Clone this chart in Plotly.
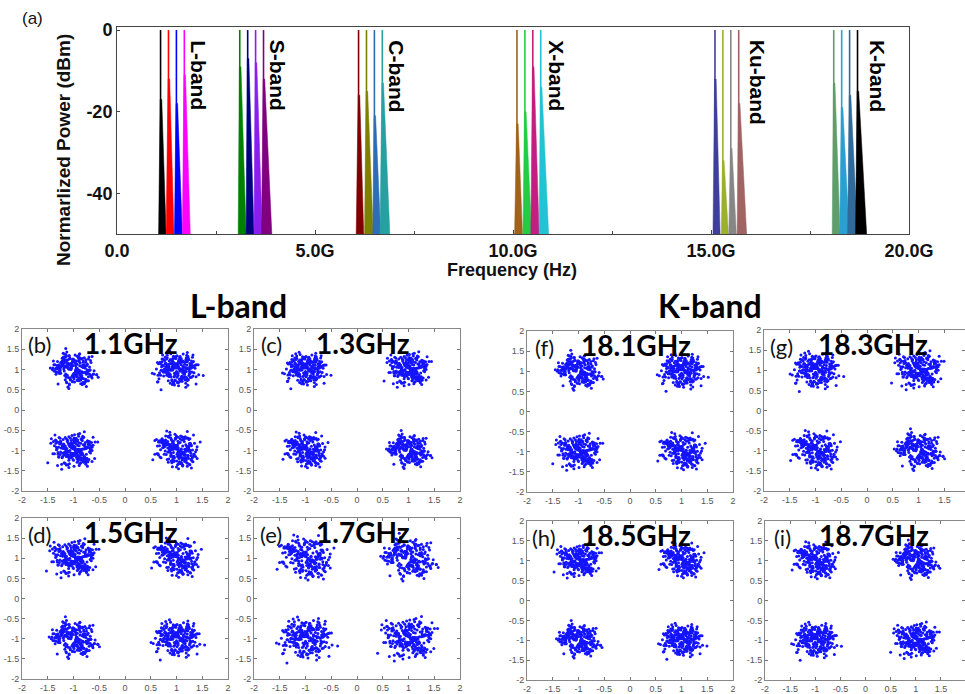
import plotly.graph_objects as go

W, H = 965, 694

# ---------------- (a) spectrum data ----------------
carrier_freq_ghz = [1.1, 1.3, 1.5, 1.7,
                    3.1, 3.3, 3.5, 3.7,
                    6.1, 6.3, 6.5, 6.7,
                    10.1, 10.3, 10.5, 10.7,
                    15.1, 15.3, 15.5, 15.7,
                    18.1, 18.3, 18.5, 18.7]
carrier_knee_db = [-17, -12, -18, -11,
                   -9, -7, -8, -12,
                   -16, -15, -21, -13,
                   -23, -20, -9, -14,
                   -12, -32, -29, -18,
                   -13, -19, -16, -15]
carrier_left_w = [0.05, 0.06, 0.05, 0.05,
                  0.04, 0.04, 0.04, 0.05,
                  0.06, 0.05, 0.04, 0.06,
                  0.06, 0.05, 0.05, 0.04,
                  0.05, 0.04, 0.05, 0.04,
                  0.04, 0.05, 0.05, 0.05]
carrier_right_w = [0.14, 0.14, 0.15, 0.15,
                   0.16, 0.16, 0.17, 0.21,
                   0.13, 0.17, 0.16, 0.19,
                   0.14, 0.17, 0.16, 0.2,
                   0.13, 0.14, 0.14, 0.2,
                   0.16, 0.19, 0.2, 0.23]
carrier_colors = ["#000000", "#ff0000", "#0000ff", "#ff00ff",
                  "#008000", "#000080", "#8a1ef0", "#800080",
                  "#800000", "#808000", "#2f6db5", "#26a0a0",
                  "#a0621c", "#22cc44", "#c21f80", "#22c3d3",
                  "#3f3f9c", "#9bb02c", "#868686", "#a06464",
                  "#5f9e6a", "#2aa0d2", "#2f6a9a", "#000000"]
band_names = ["L-band", "S-band", "C-band", "X-band", "Ku-band", "K-band"]
band_label_freq = [2.07, 4.04, 7.07, 11.1, 16.16, 19.2]

x_tick_vals = [0, 5, 10, 15, 20]
x_tick_text = ["0.0", "5.0G", "10.0G", "15.0G", "20.0G"]
y_tick_vals = [0, -20, -40]
y_tick_text = ["0", "-20", "-40"]

# ---------------- constellation data ----------------
panel_tags = ["(b)", "(c)", "(d)", "(e)", "(f)", "(g)", "(h)", "(i)"]
panel_freq_text = ["1.1GHz", "1.3GHz", "1.5GHz", "1.7GHz",
                   "18.1GHz", "18.3GHz", "18.5GHz", "18.7GHz"]
panel_spread = [1.0, 0.95, 1.05, 1.2, 1.0, 1.05, 0.95, 1.0]
cluster_cx = [-1, 1, -1, 1]
cluster_cy = [1, 1, -1, -1]

# symbol cloud offsets (hundredths of a unit) estimated from the scatter
off_a_x = [-12, 5, 23, -31, 8, -3, 17, -22, 30, -7, 14, -18, 2, 27, -26, 11, -9, 35, -14, 4,
           -38, 19, -5, 9, -24, 29, -1, 13, -16, 21, -33, 6, 16, -11, 40, -20, 1, -28, 24, -6,
           10, -15, 33, -2, 18, -35, 7, -19, 26, -10, 3, -27, 12, 45, -8, 20, -13, 31, -4, -41,
           15, -21, 0, 22, -30, 8, -17, 28, -9, 36, -23, 5, -45, 17, -1, 25, -12, 11, -29, 3,
           19, -7, 38, -16, 9, -25, 14, -3, 32, -19, 6, -36, 21, -11, 2, 27, -20, 13, -6, 48,
           -14, 24, -32, 10, -2, 16, -26, 34, -8, 4, -18, 29, -15, 7, -39, 12, -5, 23, -22, 1]
off_a_y = [8, -14, 3, 20, -25, 11, -6, 17, -2, 28, -19, 5, -31, 13, -9, 24, 1, -16, 33, -7,
           12, -22, 7, -4, 18, -28, 26, -12, 9, -35, 4, 21, -18, 15, -3, 30, -10, 6, -24, 14,
           -1, 37, -15, 19, -8, 2, -27, 23, 10, -20, 16, -5, 29, -13, -38, 7, 22, -11, 3, 0,
           -17, 13, 25, -30, 6, -9, 18, -2, 34, -21, 11, -6, 4, 27, -14, -42, 15, -4, 9, 20,
           -23, 2, -12, 31, -7, 16, -26, 8, -1, 22, -17, 12, -33, 5, 19, -10, 40, -3, 14, -19,
           6, -29, 10, -8, 24, -15, 1, 17, -36, 9, -4, 26, -11, 3, 21, -22, 13, -6, 28, -13]
off_b_x = [3, -21, 14, -8, 29, -15, 6, -33, 19, -2, 11, -26, 37, -12, 8, -5, 24, -18, 1, 16,
           -29, 10, -7, 32, -14, 21, -36, 4, -10, 27, -1, 15, -23, 7, -43, 18, -4, 30, -17, 12,
           -25, 2, 22, -9, 39, -13, 5, -31, 13, -6, 26, -20, 9, -3, 34, -16, 17, -28, 0, 20,
           -11, 43, -19, 6, -37, 14, -8, 25, -2, 11, -22, 31, -15, 3, -30, 18, -5, 9, -47, 23,
           -12, 1, 28, -24, 7, -9, 36, -18, 15, -4, 21, -32, 10, -14, 4, 29, -21, 13, -7, 52,
           -26, 8, -1, 19, -35, 16, -10, 24, -3, 33, -19, 5, -13, 12, -28, 2, 20, -6, 38, -16]
off_b_y = [-10, 16, -4, 25, -19, 7, 31, -13, 2, -27, 18, -6, 11, -34, 22, 4, -15, 29, -9, 13,
           -2, -23, 9, 36, -12, 19, -30, 6, 14, -7, 27, -20, 1, 17, -11, 24, -38, 10, -3, 21,
           -16, 5, 33, -25, 12, -1, 20, -14, 7, -32, 15, 0, -21, 28, -8, 3, -18, 26, -5, 11,
           39, -13, 8, -24, 17, -3, 23, -10, 4, -29, 14, 30, -17, 6, -2, 19, -35, 12, -9, 2,
           25, -19, 10, -6, 16, -28, 3, 35, -12, 8, -22, 18, -1, 13, -40, 21, -7, 5, 27, -15,
           9, -4, 32, -20, 14, -11, 1, 24, -26, 7, -14, 19, 45, -8, 11, -31, 4, 17, -18, 0]
off_c_x = [-5, 18, -27, 9, 2, -16, 31, -11, 22, -34, 7, 13, -20, 4, 38, -8, -24, 15, 1, -13,
           26, -3, 10, -30, 19, -6, 34, -18, 5, -9, 23, -39, 12, 0, -22, 16, -14, 29, -1, 8,
           -32, 21, -10, 3, 41, -17, 6, -26, 14, -4, 28, -12, 9, -36, 17, -7, 25, 2, -19, 11,
           -2, 35, -15, 20, -28, 4, -11, 30, -21, 13, -44, 7, 24, -6, 16, -33, 1, 19, -9, 27,
           -14, 3, -37, 10, 22, -5, 32, -23, 8, -12, 15, -1, 42, -18, 6, -29, 12, -8, 21, -3,
           36, -16, 9, -25, 2, 18, -10, 26, -31, 5, -7, 14, -20, 33, -4, 11, -15, 23, -50, 0]
off_c_y = [14, -9, 21, -26, 5, 32, -3, -15, 10, 18, -21, 2, 27, -8, 13, -33, 6, -1, 24, -12,
           -19, 9, 35, -5, -28, 16, 1, -11, 30, -17, 7, 22, -4, -24, 12, 3, -36, 19, -7, 26,
           4, -14, -2, 28, -20, 10, -9, 17, -31, 6, 23, -13, 0, 38, -6, 15, -25, 8, 11, -18,
           -10, 20, -3, 33, -16, 1, 25, -22, 12, -7, 18, -29, 5, 30, -11, 2, -39, 14, -4, 9,
           -15, 26, -8, 3, -23, 19, 7, -34, 13, -2, 29, -12, 21, -5, -17, 8, 42, -19, 4, 16,
           -27, 11, -1, 23, -9, 31, -14, 6, -37, 17, 0, -20, 10, -6, 25, -16, 3, 20, -30, 12]
off_d_x = [9, -17, 28, -4, 15, -30, 1, 21, -12, 6, -25, 34, -9, 18, -2, -37, 12, 25, -15, 3,
           -7, 31, -20, 10, -33, 16, 0, -11, 23, -26, 5, 40, -14, 19, -5, 27, -22, 8, -39, 13,
           1, -18, 24, -8, 35, -13, 7, -28, 17, -1, 30, -24, 11, -6, 20, -16, 46, -10, 4, -31,
           14, -3, 26, -19, 9, -42, 22, -7, 12, 37, -21, 2, -14, 29, -27, 6, 18, -4, 33, -11,
           -23, 10, -1, 24, -35, 15, -9, 3, 28, -17, 8, -46, 19, -2, 13, -29, 32, -12, 5, 21,
           -6, 16, -34, 11, -19, 25, -3, 7, -24, 39, -15, 4, 22, -8, 14, -32, 27, -10, 1, 17]
off_d_y = [-6, 22, -13, 8, 29, -18, 3, -31, 14, -2, 19, -9, 25, -24, 6, 11, -37, 17, -4, 33,
           -15, 1, 20, -7, 12, -27, 36, -11, 4, 23, -20, 9, -2, 30, -14, 16, -1, -33, 27, -8,
           13, -22, 7, -40, 18, 2, -16, 28, -10, 5, -26, 15, 34, -5, 10, -29, 21, -12, 0, 24,
           -19, 6, -35, 17, 3, -9, 31, -21, 11, -3, 26, -15, 8, -43, 19, -1, 14, -25, 38, -6,
           10, -17, 4, 27, -11, 22, -30, 7, 15, -4, 36, -23, 1, 12, -8, 20, -28, 9, -13, 47,
           3, -19, 24, -5, 16, -34, 11, 29, -9, 2, -21, 18, -12, 6, 32, -16, 0, -26, 13, -2]

offsets = [(off_a_x, off_a_y), (off_b_x, off_b_y), (off_c_x, off_c_y), (off_d_x, off_d_y)]

const_ticks = [-2, -1.5, -1, -0.5, 0, 0.5, 1, 1.5, 2]
const_tick_text = ["-2", "-1.5", "-1", "-0.5", "0", "0.5", "1", "1.5", "2"]

# ---------------- layout geometry (pixels) ----------------
def px(x):
    return x / W


def py(y):
    return 1 - y / H


# panel boxes: left, right, top, bottom, x range max
panel_boxes = [
    (22, 228, 329, 491, 2.0),
    (254, 460, 329, 491, 2.0),
    (22, 228, 518, 679, 2.0),
    (254, 460, 518, 679, 2.0),
    (527, 733, 331, 492, 2.0),
    (764, 965, 330, 491, 1.9),
    (527, 733, 521, 680, 2.0),
    (765, 965, 521, 680, 1.98),
]

fig = go.Figure()

# ---- spectrum traces ----
for f, kn, wl, wr, c in zip(carrier_freq_ghz, carrier_knee_db, carrier_left_w,
                            carrier_right_w, carrier_colors):
    fig.add_trace(go.Scatter(
        x=[f - wl, f - 0.01, f + 0.03, f + wr, f - wl],
        y=[-50, kn, kn, -50, -50],
        fill="toself", fillcolor=c, mode="lines",
        line=dict(color=c, width=0.5), hoverinfo="skip",
        showlegend=False, xaxis="x", yaxis="y"))
    fig.add_trace(go.Scatter(
        x=[f, f], y=[-50, 0], mode="lines",
        line=dict(color=c, width=1.6), hoverinfo="skip",
        showlegend=False, xaxis="x", yaxis="y"))

# ---- constellation traces ----
for p in range(8):
    xs, ys = [], []
    s = panel_spread[p]
    for q in range(4):
        k1 = (p + q) % 4
        k2 = (p + q + 1) % 4
        dx1, dy1 = offsets[k1]
        dx2, dy2 = offsets[k2]
        for a, b in zip(dx1, dy1):
            xs.append(cluster_cx[q] + s * a / 100)
            ys.append(cluster_cy[q] + s * b / 100)
        for a, b in zip(dy2, dx2):
            xs.append(cluster_cx[q] + s * a / 100)
            ys.append(cluster_cy[q] + s * b / 100)
    n = p + 2
    fig.add_trace(go.Scatter(
        x=xs, y=ys, mode="markers",
        marker=dict(color="#1414ff", size=3, line=dict(width=0)),
        hoverinfo="skip", showlegend=False,
        xaxis=f"x{n}", yaxis=f"y{n}"))

BOLD_SANS = "Liberation Sans, Arial, sans-serif"
CAL = "Lato, Carlito, Calibri, sans-serif"

layout = dict(
    template="none",
    width=W, height=H,
    margin=dict(l=0, r=0, t=0, b=0, autoexpand=False),
    paper_bgcolor="white", plot_bgcolor="white",
    showlegend=False,
    xaxis=dict(
        domain=[px(117), px(909)], range=[0, 20], anchor="y", automargin=False,
        tickvals=x_tick_vals, ticktext=x_tick_text,
        ticks="inside", ticklen=4, tickcolor="#444",
        minor=dict(dtick=2.5, ticks="inside", ticklen=3, tickcolor="#444", showgrid=False),
        tickfont=dict(family=BOLD_SANS, size=18, color="#111", weight="bold"),
        showline=True, linecolor="#444", linewidth=1, mirror=True,
        showgrid=False, zeroline=False),
    yaxis=dict(
        domain=[py(234), py(27)], range=[-50, 0.75], anchor="x", automargin=False,
        tickvals=y_tick_vals, ticktext=y_tick_text,
        ticks="inside", ticklen=3, tickcolor="#444",
        tickfont=dict(family=BOLD_SANS, size=18, color="#111", weight="bold"),
        showline=True, linecolor="#444", linewidth=1, mirror=True,
        showgrid=False, zeroline=False),
)

for p, (l, r, t, b, xmax) in enumerate(panel_boxes):
    n = p + 2
    common = dict(
        tickvals=const_ticks, ticktext=const_tick_text, automargin=False,
        ticks="inside", ticklen=3, tickcolor="#777",
        tickfont=dict(family="Liberation Sans, Arial, sans-serif", size=9, color="#555"),
        showline=True, linecolor="#888", linewidth=1, mirror="ticks",
        showgrid=False, zeroline=False, fixedrange=True)
    layout[f"xaxis{n}"] = dict(domain=[px(l), px(r)], range=[-2, xmax],
                               anchor=f"y{n}", **common)
    layout[f"yaxis{n}"] = dict(domain=[py(b), py(t)], range=[-2, 2],
                               anchor=f"x{n}", **common)

fig.update_layout(**layout)

ann = []


def add_text(x, y, text, font, textangle=0, xref="paper", yref="paper",
             xanchor="center", yanchor="middle"):
    ann.append(dict(x=x, y=y, xref=xref, yref=yref, text=text, textangle=textangle,
                    xanchor=xanchor, yanchor=yanchor, showarrow=False, font=font))


# spectrum texts
add_text(px(32), py(18), "(a)", dict(family=BOLD_SANS, size=17, color="#111"))
add_text(px(63), py(150), "Normarlized Power (dBm)",
         dict(family=BOLD_SANS, size=19, color="#111", weight="bold"), textangle=-90)
add_text(px(512), py(270), "Frequency (Hz)",
         dict(family=BOLD_SANS, size=18, color="#111", weight="bold"))
for name, fx in zip(band_names, band_label_freq):
    add_text(fx, -2, name, dict(family=BOLD_SANS, size=21, color="#000", weight="bold"),
             textangle=90, xref="x", yref="y", yanchor="top")

# constellation headers
add_text(px(238), py(305), "L-band", dict(family=CAL, size=32, color="#000", weight="bold"))
add_text(px(710), py(305), "K-band", dict(family=CAL, size=32, color="#000", weight="bold"))

for p, (l, r, t, b, xmax) in enumerate(panel_boxes):
    add_text(px(l + 17), py(t + 16), panel_tags[p], dict(family=CAL, size=22, color="#111"))
    add_text(px(l + 109), py(t + 14), panel_freq_text[p],
             dict(family=CAL, size=28, color="#000", weight="bold"))

fig.update_layout(annotations=ann)
fig.write_html("out.html")
